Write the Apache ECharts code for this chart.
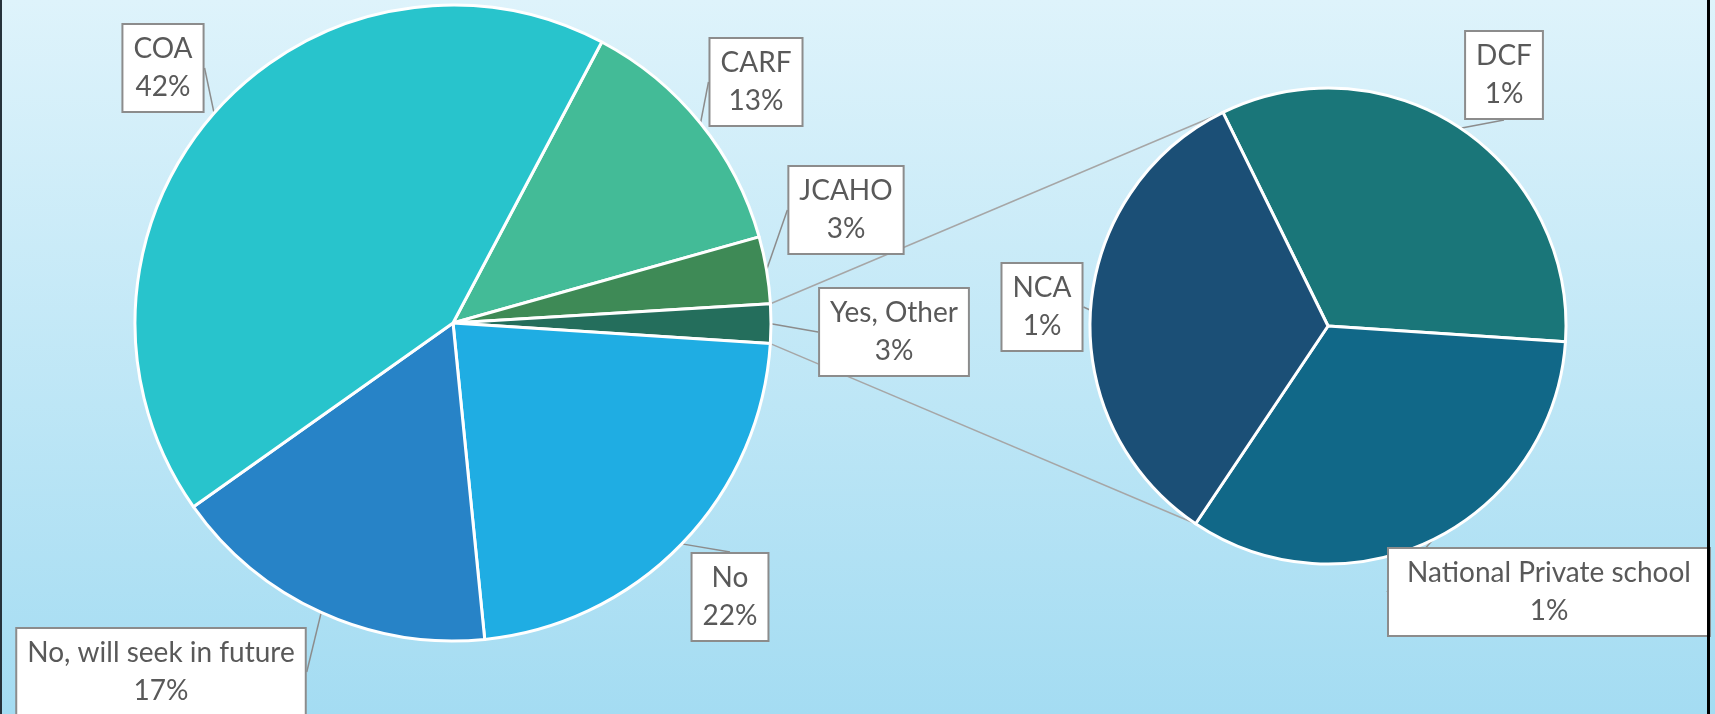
<!DOCTYPE html>
<html>
<head>
<meta charset="utf-8">
<style>
  html, body { margin: 0; padding: 0; }
  #chart { width: 1715px; height: 714px; }
</style>
<script src="https://cdn.jsdelivr.net/npm/echarts@6/dist/echarts.min.js"></script>
</head>
<body>
<div id="chart"></div>
<script>
// main pie, clockwise starting at the COA / CARF edge
var mainNames = ["CARF", "JCAHO", "Yes, Other", "No", "No, will seek in future", "COA"];
var mainShare = [12.9, 3.4, 2.0, 22.4, 16.8, 42.6];   // slice sizes as drawn
var mainPct = [13, 3, 3, 22, 17, 42];                 // printed on the labels

// breakout of "Yes, Other", clockwise from the top edge
var subNames = ["DCF", "National Private school", "NCA"];
var subShare = [1, 1, 1];
var subPct = [1, 1, 1];

var otherIndex = 2;

var mainColors = ["#43BB97", "#3E8A56", "#246E5C", "#1FADE3", "#2783C7", "#28C4CC"];
var subColors = ["#1A7679", "#116888", "#1B4F76"];

// label box centres
var mainLabelAt = [[756, 82], [846, 210], [894, 332], [730, 597], [161, 672], [163, 68]];
var subLabelAt = [[1504, 75], [1549, 592], [1042, 307]];

var mainCenter = [453, 323], mainR = 318, mainStart = 62.1;
var subCenter = [1328, 326], subR = 238, subStart = 116.2;

function rimPoint(c, r, deg) {
  var a = deg * Math.PI / 180;
  return [c[0] + r * Math.cos(a), c[1] - r * Math.sin(a)];
}

// connector lines from the "Other" slice to the second pie
var total = mainShare.reduce(function (a, b) { return a + b; }, 0);
var before = 0;
for (var i = 0; i < otherIndex; i++) before += mainShare[i];
var otherA0 = mainStart - 360 * before / total;
var otherA1 = otherA0 - 360 * mainShare[otherIndex] / total;
var subTotal = subShare.reduce(function (a, b) { return a + b; }, 0);
var lastStart = subStart - 360 * (subTotal - subShare[subShare.length - 1]) / subTotal;

var p1 = rimPoint(mainCenter, mainR, otherA0);
var p2 = rimPoint(subCenter, subR, subStart);
var p3 = rimPoint(mainCenter, mainR, otherA1);
var p4 = rimPoint(subCenter, subR, lastStart);

var chart = echarts.init(document.getElementById("chart"));

var labelStyle = {
  show: true,
  position: "outside",
  color: "#595959",
  fontFamily: "Lato",
  fontSize: 28,
  lineHeight: 38,
  backgroundColor: "#ffffff",
  borderColor: "#8c8c8c",
  borderWidth: 2,
  padding: [6, 10, 4, 10],
  align: "center",
  overflow: "none"
};

var option = {
  backgroundColor: {
    type: "linear", x: 0, y: 0, x2: 0, y2: 1,
    colorStops: [{ offset: 0, color: "#DEF3FB" }, { offset: 1, color: "#A4DCF2" }]
  },
  animation: false,
  graphic: [
    { type: "line", z: 1, shape: { x1: p1[0], y1: p1[1], x2: p2[0], y2: p2[1] }, style: { stroke: "#A6A6A6", lineWidth: 1.5 } },
    { type: "line", z: 1, shape: { x1: p3[0], y1: p3[1], x2: p4[0], y2: p4[1] }, style: { stroke: "#A6A6A6", lineWidth: 1.5 } },
    { type: "rect", z: 100, shape: { x: 0, y: 0, width: 2, height: 714 }, style: { fill: "#26323B" } },
    { type: "rect", z: 100, shape: { x: 1707, y: 0, width: 3, height: 714 }, style: { fill: "#000000" } }
  ],
  series: [
    {
      type: "pie",
      center: mainCenter,
      radius: mainR,
      startAngle: mainStart,
      clockwise: true,
      data: mainNames.map(function (n, i) {
        return { name: n, value: mainShare[i], itemStyle: { color: mainColors[i] } };
      }),
      itemStyle: { borderColor: "#ffffff", borderWidth: 3 },
      label: Object.assign({}, labelStyle, {
        formatter: function (p) { return p.name + "\n" + mainPct[p.dataIndex] + "%"; }
      }),
      labelLine: { show: true, length: 10, length2: 0, lineStyle: { color: "#8c8c8c", width: 1.5 } },
      labelLayout: function (p) {
        var at = mainLabelAt[p.dataIndex];
        return { x: at[0], y: at[1], align: "center", verticalAlign: "middle" };
      },
      emphasis: { disabled: true }
    },
    {
      type: "pie",
      center: subCenter,
      radius: subR,
      startAngle: subStart,
      clockwise: true,
      data: subNames.map(function (n, i) {
        return { name: n, value: subShare[i], itemStyle: { color: subColors[i] } };
      }),
      itemStyle: { borderColor: "#ffffff", borderWidth: 3 },
      label: Object.assign({}, labelStyle, {
        formatter: function (p) { return p.name + "\n" + subPct[p.dataIndex] + "%"; }
      }),
      labelLine: { show: true, length: 10, length2: 0, lineStyle: { color: "#8c8c8c", width: 1.5 } },
      labelLayout: function (p) {
        var at = subLabelAt[p.dataIndex];
        var out = { x: at[0], y: at[1], align: "center", verticalAlign: "middle" };
        // the long name gets squeezed by the pie's own label layout
        if (p.dataIndex === 1) out.width = 300;
        return out;
      },
      emphasis: { disabled: true }
    }
  ]
};

chart.setOption(option);
</script>
</body>
</html>
